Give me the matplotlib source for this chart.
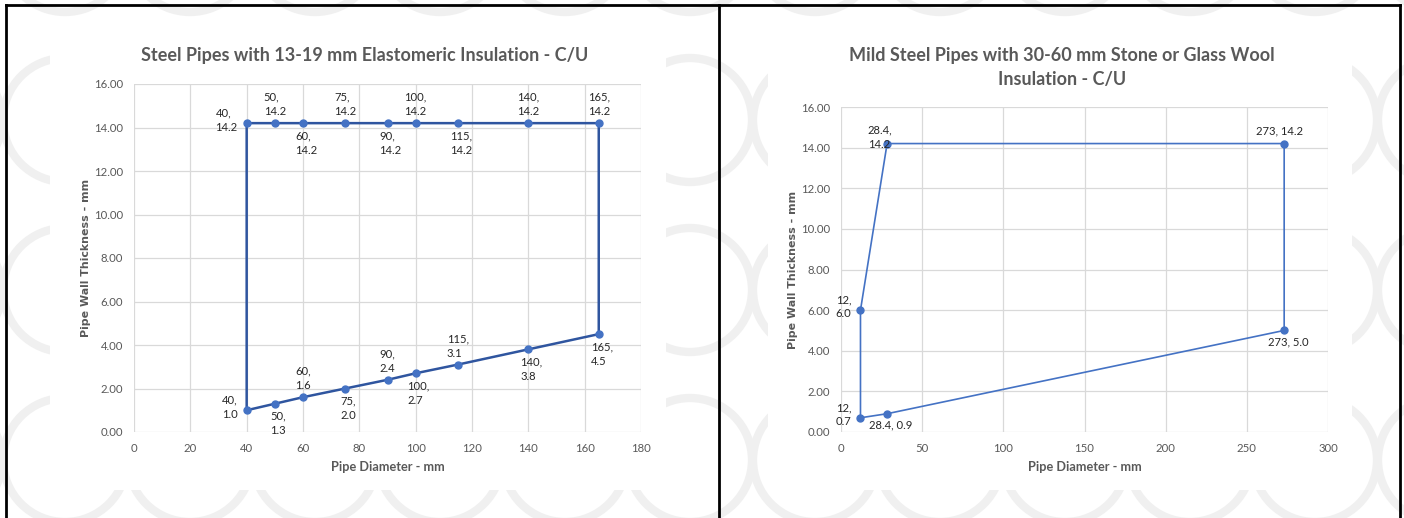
import numpy as np
import matplotlib
matplotlib.use('Agg')
import matplotlib.pyplot as plt
from matplotlib import font_manager
from matplotlib.patches import Rectangle, Circle

#--------------------Data--------------------------
left_title = 'Steel Pipes with 13-19 mm Elastomeric Insulation - C/U'
left_x = [40, 50, 60, 75, 90, 100, 115, 140, 165, 165, 140, 115, 100, 90, 75, 60, 50, 40]
left_y = [14.2, 14.2, 14.2, 14.2, 14.2, 14.2, 14.2, 14.2, 14.2, 4.5, 3.8, 3.1, 2.7, 2.4, 2.0, 1.6, 1.3, 1.0]
left_pos = ['l', 'a', 'b', 'a', 'b', 'a', 'b', 'a', 'a', 'b', 'b', 'a', 'b', 'a', 'b', 'a', 'b', 'l']

right_title = 'Mild Steel Pipes with 30-60 mm Stone or Glass Wool\nInsulation - C/U'
right_x = [28.4, 273, 273, 28.4, 12, 12]
right_y = [14.2, 14.2, 5.0, 0.9, 0.7, 6.0]
right_pos = ['tl', 'a1', 'b1', 'b1', 'l', 'l']

x_label = 'Pipe Diameter - mm'
y_label = 'Pipe Wall Thickness - mm'

#--------------------Style--------------------------
names = set(f.name for f in font_manager.fontManager.ttflist)
font = 'Liberation Sans Narrow' if 'Liberation Sans Narrow' in names else 'Lato'
plt.rcParams['font.family'] = [font, 'DejaVu Sans']
grey = '#595959'
line_col = '#2f559f'
mark_col = '#4472c4'
lab_size = 8.1

W, H = 1404, 518
fig = plt.figure(figsize=(W / 100, H / 100), dpi=100)


def px_rect(x0, y0, x1, y1):
    # pixel box (top-left origin) -> figure fraction rect
    return [x0 / W, 1 - y1 / H, (x1 - x0) / W, (y1 - y0) / H]


# background with faint watermark rings
bg = fig.add_axes([0, 0, 1, 1])
bg.set_xlim(0, W)
bg.set_ylim(H, 0)
bg.axis('off')
for cx in np.arange(-60, W + 130, 125):
    for cy in np.arange(-50, H + 130, 170):
        bg.add_patch(Circle((cx, cy), 62, fill=False, ec='#f0f0f0', lw=6))
for (x0, x1) in [(50, 666), (768, 1352)]:
    bg.add_patch(Rectangle((x0, 36), x1 - x0, 454, fc='white', ec='none', zorder=3))
# black panel frames
bg.plot([6, 6], [5, H], color='black', lw=2, zorder=5)
bg.plot([719, 719], [5, H], color='black', lw=2, zorder=5)
bg.plot([1400, 1400], [5, H], color='black', lw=2, zorder=5)
bg.plot([6, 1400], [5, 5], color='black', lw=2, zorder=5)


def label_text(x, y, pos):
    xs = ('%g' % x)
    ys = ('%.1f' % y)
    if pos.endswith('1'):
        return xs + ', ' + ys
    return xs + ',\n' + ys


def setup(ax, xmax, xstep):
    ax.set_xlim(0, xmax)
    ax.set_ylim(0, 16)
    ax.set_xticks(np.arange(0, xmax + 1, xstep))
    ax.set_yticks(np.arange(0, 17, 2))
    ax.set_yticklabels(['%.2f' % v for v in np.arange(0, 17, 2)])
    ax.grid(True, color='#d9d9d9', lw=0.9)
    ax.set_axisbelow(True)
    for s in ax.spines.values():
        s.set_visible(False)
    ax.tick_params(length=0, colors=grey, labelsize=8.2)
    ax.tick_params(axis='x', pad=8)
    ax.tick_params(axis='y', pad=8)
    ax.set_xlabel(x_label, fontsize=9.2, fontweight='bold', color=grey, labelpad=5)
    ax.set_ylabel(y_label, fontsize=7.9, fontweight='bold', color=grey, family='DejaVu Sans', labelpad=2)


offsets = {'l': ((-9, 3), 'right', 'center'),
           'a': ((0, 6), 'center', 'bottom'),
           'b': ((3, -7), 'center', 'top'),
           'tl': ((-7, -6), 'center', 'bottom'),
           'a1': ((-5, 7), 'center', 'bottom'),
           'b1': ((4, -6), 'center', 'top')}

# left chart
ax1 = fig.add_axes(px_rect(134, 84, 641, 432))
setup(ax1, 180, 20)
ax1.plot(left_x + left_x[:1], left_y + left_y[:1], color=line_col, lw=1.8, zorder=3)
ax1.plot(left_x, left_y, 'o', color=mark_col, ms=5, zorder=4)
for x, y, p in zip(left_x, left_y, left_pos):
    (dx, dy), ha, va = offsets[p]
    ax1.annotate(label_text(x, y, p), (x, y), xytext=(dx * 0.72, dy * 0.72), textcoords='offset points',
                 ha=ha, va=va, multialignment='left', fontsize=lab_size, color='#262626',
                 linespacing=1.4, zorder=5)
fig.text(365 / W, 1 - 55 / H, left_title, ha='center', va='center', fontsize=13,
         fontweight='bold', color=grey)

# right chart
ax2 = fig.add_axes(px_rect(841, 107, 1328, 432))
setup(ax2, 300, 50)
ax2.plot(right_x + right_x[:1], right_y + right_y[:1], color=mark_col, lw=1.2, zorder=3)
ax2.plot(right_x, right_y, 'o', color=mark_col, ms=5, zorder=4)
for x, y, p in zip(right_x, right_y, right_pos):
    (dx, dy), ha, va = offsets[p]
    ax2.annotate(label_text(x, y, p), (x, y), xytext=(dx * 0.72, dy * 0.72), textcoords='offset points',
                 ha=ha, va=va, multialignment='left', fontsize=lab_size, color='#262626',
                 linespacing=1.3, zorder=5)
fig.text(1062 / W, 1 - 68 / H, right_title, ha='center', va='center', fontsize=13,
         fontweight='bold', color=grey, linespacing=1.5)

fig.savefig('out.png', dpi=100)
